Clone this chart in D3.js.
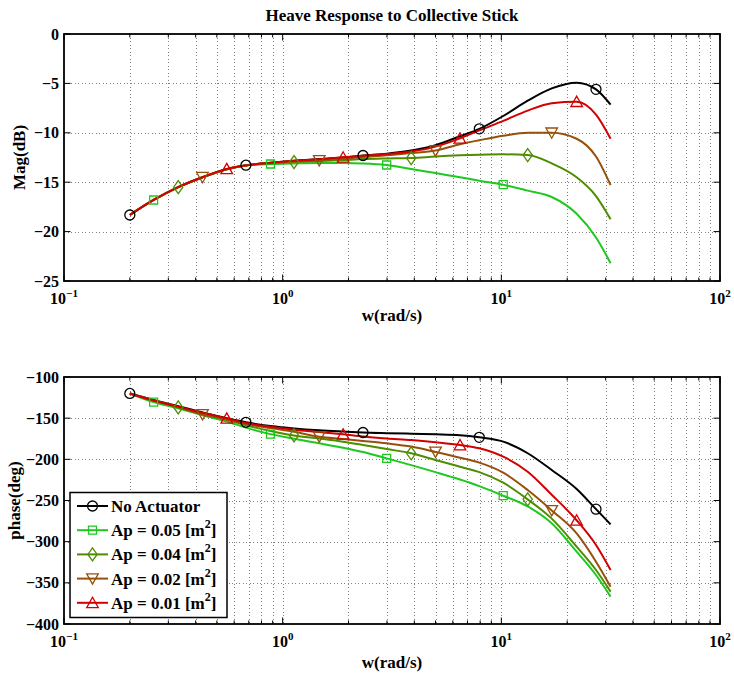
<!DOCTYPE html>
<html>
<head>
<meta charset="utf-8">
<script src="https://cdn.jsdelivr.net/npm/d3@7"></script>
<style>
  body { margin: 0; background: #fff; }
  text { font-family: "Liberation Serif", "Times New Roman", serif; font-weight: bold; fill: #000; }
</style>
</head>
<body>
<svg id="chart" width="734" height="675"></svg>
<script>
// Frequency points (rad/s)
const freq = [0.2, 0.257, 0.333, 0.43, 0.555, 0.679, 0.88, 1.127, 1.47, 1.89, 2.33,
              2.99, 3.87, 5.0, 6.47, 7.93, 10.2, 13.2, 17.0, 22.1, 27.1, 31.6];

// Magnitude (dB)
const magNoActuator = [-18.32, -16.8, -15.5, -14.5, -13.68, -13.28, -13.02, -12.82, -12.66, -12.5, -12.3,
                       -12.12, -11.8, -11.25, -10.35, -9.6, -8.3, -6.75, -5.5, -4.93, -5.6, -7.15];
const magAp005 = [-18.32, -16.8, -15.5, -14.5, -13.68, -13.3, -13.16, -13.1, -13.06, -13.06, -13.1,
                  -13.26, -13.66, -14.08, -14.5, -14.85, -15.25, -15.85, -16.5, -18.2, -20.6, -23.2];
const magAp004 = [-18.32, -16.8, -15.5, -14.5, -13.68, -13.3, -13.08, -12.96, -12.86, -12.76, -12.66,
                  -12.6, -12.56, -12.4, -12.28, -12.22, -12.18, -12.25, -13.1, -14.5, -16.4, -18.76];
const magAp002 = [-18.32, -16.8, -15.5, -14.5, -13.68, -13.3, -13.05, -12.88, -12.8, -12.62, -12.45,
                  -12.28, -12.05, -11.8, -11.15, -10.75, -10.3, -10.0, -10.0, -10.6, -12.4, -15.3];
const magAp001 = [-18.32, -16.8, -15.5, -14.5, -13.65, -13.3, -13.04, -12.84, -12.67, -12.48, -12.32,
                  -12.15, -11.9, -11.4, -10.56, -9.75, -8.8, -7.75, -7.0, -6.85, -8.15, -10.6];

// Phase (deg)
const phaseNoActuator = [-120, -128, -135.5, -143, -150, -155, -159.5, -162.5, -164.8, -166.3, -167.4,
                         -168.2, -168.9, -169.6, -170.7, -173.3, -178.5, -192.6, -213, -236, -260.5, -279];
const phaseAp005 = [-120, -130.5, -138, -146.5, -154, -161.5, -169.4, -175, -180.5, -186, -191.2,
                    -198.8, -207, -215.5, -224.5, -232.5, -244.2, -257.2, -277.7, -312.2, -340.5, -366.8];
const phaseAp004 = [-120, -129, -137, -145, -152, -158.5, -165.5, -171, -174.8, -178.6, -182.5,
                    -187.5, -192.7, -200.8, -209, -215.5, -228.4, -248.6, -272, -306, -334.4, -360.7];
const phaseAp002 = [-120, -128.5, -136.5, -145.5, -151.5, -157, -162, -166.5, -172.5, -175.2, -177.6,
                    -180.6, -184.5, -191, -198, -204, -216.2, -237.3, -262, -290, -324.3, -354.7];
const phaseAp001 = [-120, -128.5, -136, -143.5, -150.2, -155.8, -160.5, -164, -166.8, -169.6, -172.2,
                    -174.6, -176.6, -179.3, -182.6, -186.6, -196.8, -215, -243, -274, -304, -334.4];

const seriesLabels = ["No Actuator", "Ap = 0.05 [m^2]", "Ap = 0.04 [m^2]", "Ap = 0.02 [m^2]", "Ap = 0.01 [m^2]"];
const magSeries = [magNoActuator, magAp005, magAp004, magAp002, magAp001];
const phaseSeries = [phaseNoActuator, phaseAp005, phaseAp004, phaseAp002, phaseAp001];

// Axis ticks
const xMajorTicks = [0.1, 1, 10, 100];
const xTickExponents = ["\u22121", "0", "1", "2"];
const magTicks = [0, -5, -10, -15, -20, -25];
const phaseTicks = [-100, -150, -200, -250, -300, -350, -400];

// Styles
const seriesColors = ["#000000", "#1ec81e", "#4e8c00", "#96500a", "#d20000"];
const seriesMarkers = ["circle", "square", "diamond", "triangleDown", "triangleUp"];
const markerEvery = 5;

const svg = d3.select("#chart");
const X0 = 64, X1 = 720;
const x = d3.scaleLog().domain([0.1, 100]).range([X0, X1]);

const minorTicks = [];
[0.1, 1, 10].forEach(d => { for (let k = 2; k <= 9; k++) minorTicks.push(d * k); });

function markerPath(type) {
  const p = d3.path();
  if (type === "circle") { p.moveTo(5, 0); p.arc(0, 0, 5, 0, 2 * Math.PI); }
  else if (type === "square") { p.rect(-4, -4, 8, 8); }
  else if (type === "diamond") { p.moveTo(0, -6.5); p.lineTo(4.6, 0); p.lineTo(0, 6.5); p.lineTo(-4.6, 0); p.closePath(); }
  else if (type === "triangleUp") { p.moveTo(0, -5.5); p.lineTo(5.8, 4.8); p.lineTo(-5.8, 4.8); p.closePath(); }
  else if (type === "triangleDown") { p.moveTo(0, 5.5); p.lineTo(5.8, -4.8); p.lineTo(-5.8, -4.8); p.closePath(); }
  return p.toString();
}

function drawPanel(opts) {
  const { top, bottom, domain, ticks, values, ylabel, ylabelX, tickBase, xlabelBase } = opts;
  const y = d3.scaleLinear().domain(domain).range([bottom, top]);
  const g = svg.append("g");

  // dotted grid
  const grid = g.append("g").attr("stroke", "#808080").attr("stroke-width", 1)
    .attr("stroke-dasharray", "1 2.5").attr("shape-rendering", "crispEdges");
  grid.selectAll(".vx").data(minorTicks.concat([1, 10])).join("line")
    .attr("x1", d => Math.round(x(d)) + 0.5).attr("x2", d => Math.round(x(d)) + 0.5)
    .attr("y1", top).attr("y2", bottom);
  grid.selectAll(".hy").data(ticks.slice(1, -1)).join("line")
    .attr("x1", X0).attr("x2", X1)
    .attr("y1", d => Math.round(y(d)) + 0.5).attr("y2", d => Math.round(y(d)) + 0.5);

  // curves
  const line = d3.line().x((d, i) => x(freq[i])).y(d => y(d)).curve(d3.curveMonotoneX);
  values.forEach((vals, s) => {
    g.append("path").datum(vals).attr("d", line).attr("fill", "none")
      .attr("stroke", seriesColors[s]).attr("stroke-width", 2);
  });
  // markers every fifth point, staggered by series, none on the closing point
  values.forEach((vals, s) => {
    const idx = d3.range(s, freq.length - 1, markerEvery);
    g.selectAll(null).data(idx).join("path")
      .attr("d", markerPath(seriesMarkers[s]))
      .attr("transform", i => `translate(${x(freq[i])},${y(vals[i])})`)
      .attr("fill", "none").attr("stroke", seriesColors[s]).attr("stroke-width", 1.3);
  });

  // ticks (inward, all four sides)
  const tk = g.append("g").attr("stroke", "#000").attr("stroke-width", 1);
  const majorLen = 6.5, minorLen = 3.5;
  xMajorTicks.forEach(d => {
    tk.append("line").attr("x1", x(d)).attr("x2", x(d)).attr("y1", bottom).attr("y2", bottom - majorLen);
    tk.append("line").attr("x1", x(d)).attr("x2", x(d)).attr("y1", top).attr("y2", top + majorLen);
  });
  minorTicks.forEach(d => {
    tk.append("line").attr("x1", x(d)).attr("x2", x(d)).attr("y1", bottom).attr("y2", bottom - minorLen);
    tk.append("line").attr("x1", x(d)).attr("x2", x(d)).attr("y1", top).attr("y2", top + minorLen);
  });
  ticks.forEach(d => {
    tk.append("line").attr("x1", X0).attr("x2", X0 + majorLen).attr("y1", y(d)).attr("y2", y(d));
    tk.append("line").attr("x1", X1).attr("x2", X1 - majorLen).attr("y1", y(d)).attr("y2", y(d));
  });

  // frame
  g.append("rect").attr("x", X0).attr("y", top).attr("width", X1 - X0).attr("height", bottom - top)
    .attr("fill", "none").attr("stroke", "#000").attr("stroke-width", 1.8);

  // y tick labels
  g.selectAll(".yl").data(ticks).join("text")
    .attr("x", X0 - 5).attr("y", d => y(d)).attr("dy", "0.35em")
    .attr("text-anchor", "end").attr("font-size", 16)
    .text(d => d === 0 ? "0" : "\u2212" + Math.abs(d));

  // x tick labels (10^n)
  xMajorTicks.forEach((d, i) => {
    const t = g.append("text").attr("x", x(d)).attr("y", tickBase)
      .attr("text-anchor", "middle").attr("font-size", 16);
    t.append("tspan").text("10");
    t.append("tspan").attr("dy", -7).attr("font-size", 11).text(xTickExponents[i]);
  });

  // axis labels
  g.append("text").attr("x", (X0 + X1) / 2).attr("y", xlabelBase)
    .attr("text-anchor", "middle").attr("font-size", 17).text("w(rad/s)");
  g.append("text").attr("transform", `translate(${ylabelX},${(top + bottom) / 2}) rotate(-90)`)
    .attr("text-anchor", "middle").attr("font-size", 17).text(ylabel);
  return y;
}

// title
svg.append("text").attr("x", (X0 + X1) / 2).attr("y", 21).attr("text-anchor", "middle")
  .attr("font-size", 17).text("Heave Response to Collective Stick");

drawPanel({ top: 34, bottom: 281, domain: [-25, 0], ticks: magTicks, values: magSeries,
            ylabel: "Mag(dB)", ylabelX: 25, tickBase: 304, xlabelBase: 321 });
drawPanel({ top: 377, bottom: 624, domain: [-400, -100], ticks: phaseTicks, values: phaseSeries,
            ylabel: "phase(deg)", ylabelX: 20, tickBase: 647, xlabelBase: 668 });

// legend
const lg = svg.append("g");
lg.append("rect").attr("x", 70).attr("y", 492.5).attr("width", 157).attr("height", 125)
  .attr("fill", "#fff").attr("stroke", "#000").attr("stroke-width", 1.5);
seriesLabels.forEach((lab, i) => {
  const cy = 506 + i * 24.2;
  lg.append("line").attr("x1", 77).attr("x2", 108).attr("y1", cy).attr("y2", cy)
    .attr("stroke", seriesColors[i]).attr("stroke-width", 2);
  lg.append("path").attr("d", markerPath(seriesMarkers[i]))
    .attr("transform", `translate(92.5,${cy})`)
    .attr("fill", "none").attr("stroke", seriesColors[i]).attr("stroke-width", 1.3);
  const t = lg.append("text").attr("x", 111).attr("y", cy + 6).attr("font-size", 17);
  const parts = lab.split("^");
  t.append("tspan").text(parts[0]);
  if (parts.length > 1) {
    t.append("tspan").attr("dy", -8).attr("font-size", 12).text(parts[1].charAt(0));
    t.append("tspan").attr("dy", 8).text(parts[1].slice(1));
  }
});
</script>
</body>
</html>
